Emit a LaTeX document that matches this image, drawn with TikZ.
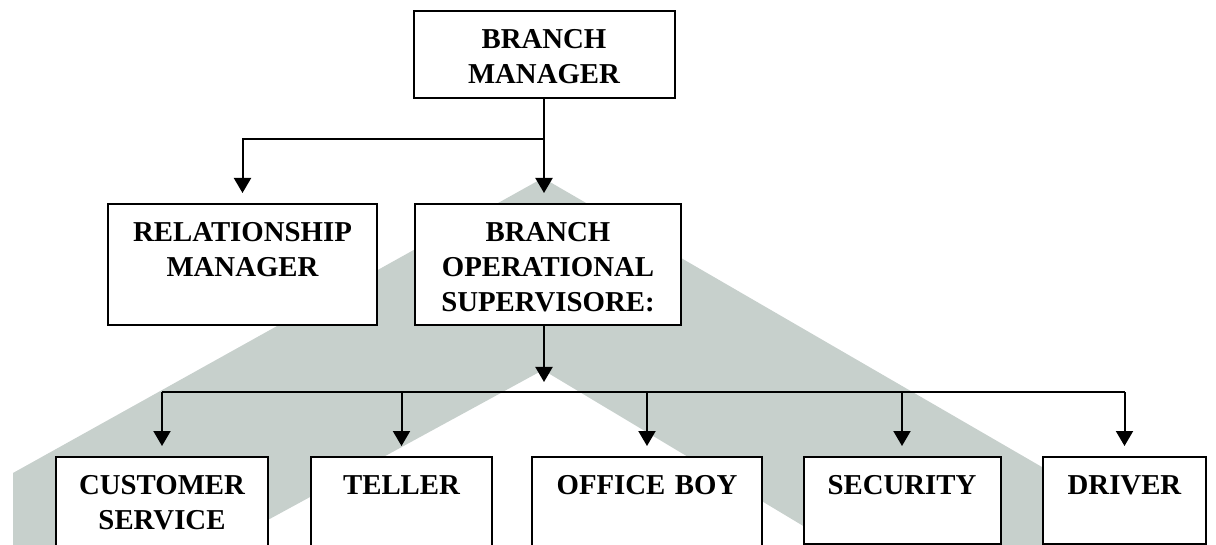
\documentclass[tikz,border=0pt]{standalone}
\usepackage{fontspec}
\setmainfont{Liberation Serif}
\usepackage{tikz}
\usetikzlibrary{arrows.meta}
\usepackage{xcolor}
\definecolor{wmgray}{RGB}{199,208,204}
\tikzset{
  % style for the boxes of the chart, text sits at the top
  unit/.style={
    draw=black, fill=white, line width=1pt,
    anchor=north, align=center,
    inner xsep=0pt, inner ysep=9.25pt, text height=9.5pt,
    font=\fontsize{14.4}{17.5}\selectfont\bfseries
  },
  % style for plain lines of the chart
  link/.style={draw=black, line width=1pt},
  % style for the lines that end in an arrow
  down/.style={link, -{Triangle[length=7.5pt,width=8.5pt]}, shorten >=5pt},
}

\begin{document}
\begin{tikzpicture}[x=0.5pt,y=-0.5pt]
    \clip (0,0) rectangle (1216,545);
    %\draw[step=50, gray,very thin] (0,0) grid (1216,545);
    % watermark in the back
    \fill[wmgray] (13,545) -- (13,473) -- (543,178) -- (1073,485) -- (1073,545)
        -- (835,545) -- (543,370) -- (222,545) -- cycle;

    \node[unit, text width=130.5pt, text depth=15.5pt] (bm) at (544,10) {BRANCH\\MANAGER};
    \node[unit, text width=134.5pt, text depth=32.5pt] (rm) at (242.5,203) {RELATIONSHIP\\MANAGER};
    \node[unit, text width=133pt, text depth=32.5pt] (bos) at (548,203) {BRANCH\\OPERATIONAL\\SUPERVISORE:};

    \node[unit, text width=106pt, text depth=32pt] (cs) at (162,456) {CUSTOMER\\SERVICE};
    \node[unit, text width=90.5pt, text depth=32pt] (tl) at (401.5,456) {TELLER};
    \node[unit, text width=115pt, text depth=32pt] (ob) at (647,456) {OFFICE BOY};
    \node[unit, text width=98.5pt, text depth=15.5pt] (sec) at (902,456) {SECURITY};
    \node[unit, text width=81.5pt, text depth=15.5pt] (drv) at (1124.5,456) {DRIVER};

    \coordinate (top) at (544,139);
    \coordinate (mid) at (544,392);

    \begin{scope}
    \draw[down] (bm.south) -- (bm.south |- bos.north);
    \draw[down] (top) -| (rm.north);
    \draw[down] (bm.south |- bos.south) -- (mid);
    \draw[link] (mid -| cs.north) -- (mid -| drv.north);
    \draw[down] (mid -| cs.north) -- (cs.north);
    \draw[down] (mid -| tl.north) -- (tl.north);
    \draw[down] (mid -| ob.north) -- (ob.north);
    \draw[down] (mid -| sec.north) -- (sec.north);
    \draw[down] (mid -| drv.north) -- (drv.north);
    \end{scope}
\end{tikzpicture}
\end{document}
